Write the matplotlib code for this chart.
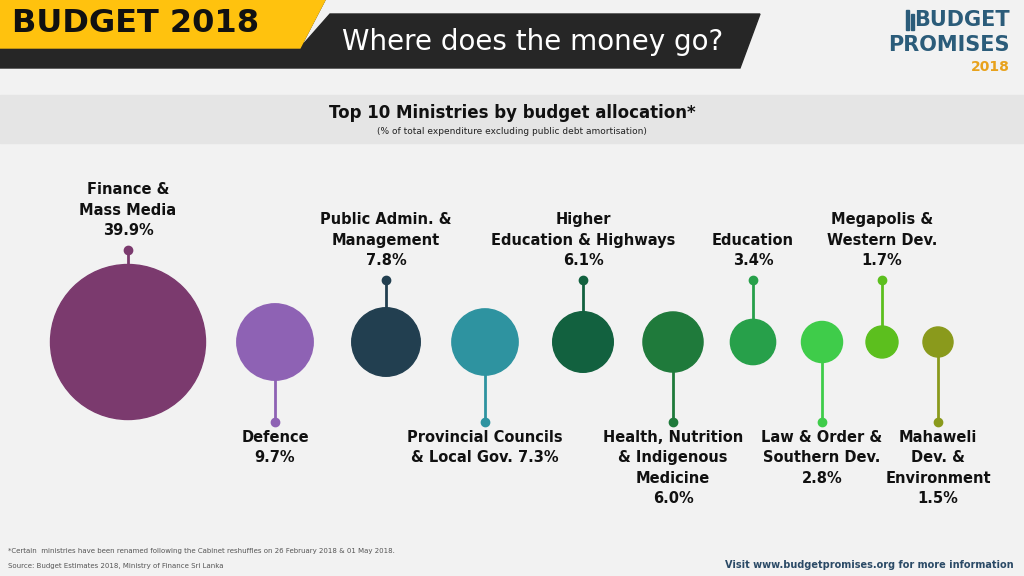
import matplotlib.pyplot as plt
import matplotlib.patches as patches
import numpy as np

ministries = ["Finance &\nMass Media", "Defence", "Public Admin. &\nManagement",
              "Provincial Councils\n& Local Gov.", "Higher\nEducation & Highways",
              "Health, Nutrition\n& Indigenous\nMedicine", "Education",
              "Law & Order &\nSouthern Dev.", "Megapolis &\nWestern Dev.",
              "Mahaweli\nDev. &\nEnvironment"]
shares = [39.9, 9.7, 7.8, 7.3, 6.1, 6.0, 3.4, 2.8, 1.7, 1.5]
colors = ["#7B3A6E", "#8E62B4", "#223F50", "#2E93A0", "#12613F",
          "#1F7A3B", "#27A04A", "#3FCC4A", "#5CBF1E", "#8A9A1C"]
x_pos = [128, 275, 386, 485, 583, 673, 753, 822, 882, 938]

fig = plt.figure(figsize=(10.24, 5.76), dpi=100)
fig.patch.set_facecolor("#F2F2F2")
ax = fig.add_axes([0, 0, 1, 1])
ax.set_xlim(0, 1024)
ax.set_ylim(576, 0)
ax.axis("off")

# Header
ax.add_patch(patches.Polygon([[300, 48], [325, 0], [0, 0], [0, 68], [740, 68], [760, 14], [330, 14]],
                             color="#262626", zorder=0))
ax.add_patch(patches.Polygon([[0, 0], [325, 0], [300, 48], [0, 48]], color="#FFC20E", zorder=1))
ax.text(12, 24, "BUDGET 2018", fontsize=23, fontweight="bold", color="#111111", va="center", zorder=2)
ax.text(342, 42, "Where does the money go?", fontsize=20, color="white", va="center", zorder=2)

# Logo
ax.add_patch(patches.Rectangle((906, 10), 3, 20, color="#2B5C7A"))
ax.add_patch(patches.Rectangle((911, 14), 3, 16, color="#2B5C7A"))
ax.text(1010, 20, "BUDGET", fontsize=15, fontweight="bold", color="#2B5C7A", va="center", ha="right")
ax.text(1010, 45, "PROMISES", fontsize=15, fontweight="bold", color="#2B5C7A", va="center", ha="right")
ax.text(1010, 67, "2018", fontsize=10, fontweight="bold", color="#E8A21C", va="center", ha="right")

# Title band
ax.add_patch(patches.Rectangle((0, 95), 1024, 48, color="#E5E5E5"))
ax.text(512, 113, "Top 10 Ministries by budget allocation*", fontsize=12, fontweight="bold",
        ha="center", va="center", color="#111111")
ax.text(512, 131, "(% of total expenditure excluding public debt amortisation)", fontsize=6.5,
        ha="center", va="center", color="#222222")

cy = 342
scale = 77.5 / np.sqrt(shares[0])
for i, (name, s, c, x) in enumerate(zip(ministries, shares, colors, x_pos)):
    r = scale * np.sqrt(s)
    up = i % 2 == 0
    if i == 0:
        end = 250
    elif up:
        end = 280
    else:
        end = 422
    ax.plot([x, x], [cy, end], color=c, lw=2, zorder=1)
    ax.plot(x, end, "o", color=c, ms=6, zorder=2)
    ax.add_patch(patches.Circle((x, cy), r, color=c, zorder=3))
    label = f"{name}\n{s}%"
    if i == 3:
        label = f"{name} {s}%"
    kw = dict(ha="center", fontsize=10.5, fontweight="bold", color="#111111", linespacing=1.45)
    if up:
        ax.text(x, end - 12, label, va="bottom", **kw)
    else:
        ax.text(x, end + 8, label, va="top", **kw)

ax.text(8, 551, "*Certain  ministries have been renamed following the Cabinet reshuffles on 26 February 2018 & 01 May 2018.",
        fontsize=5, color="#555555", va="center")
ax.text(8, 566, "Source: Budget Estimates 2018, Ministry of Finance Sri Lanka", fontsize=5, color="#555555", va="center")
ax.text(1014, 565, "Visit www.budgetpromises.org for more information", fontsize=7, fontweight="bold",
        color="#2B4A66", ha="right", va="center")

fig.savefig("out.png", dpi=100, facecolor=fig.get_facecolor())
